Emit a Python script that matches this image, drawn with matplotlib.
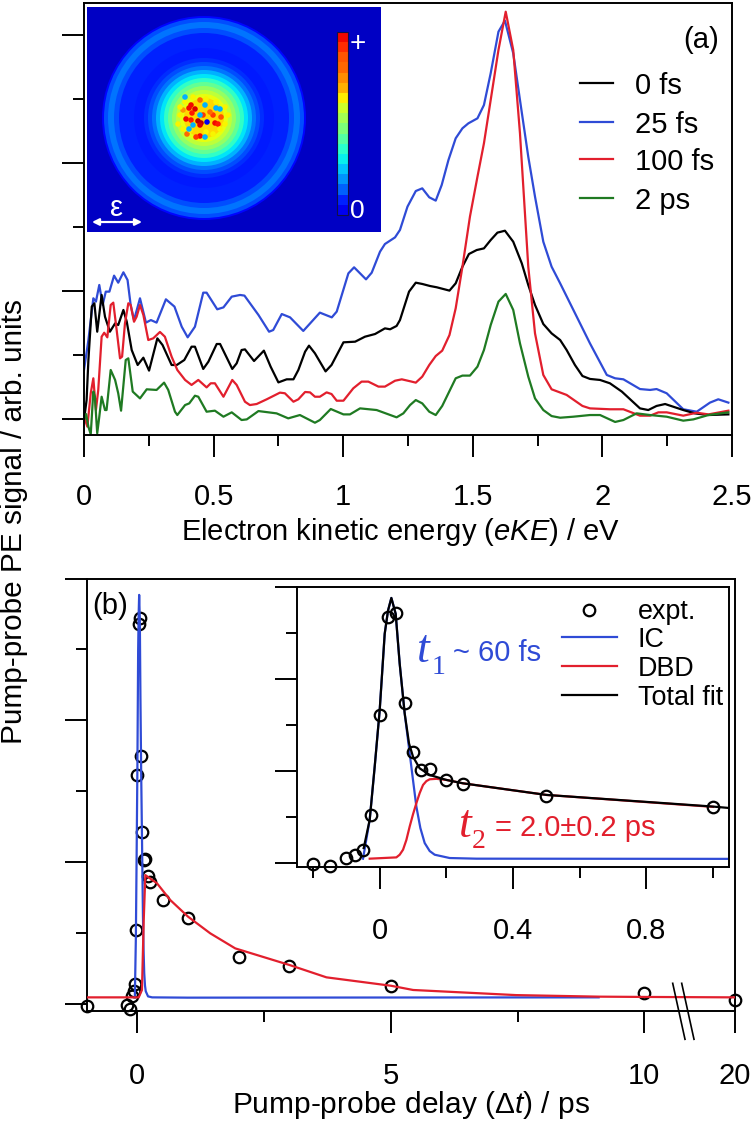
# -*- coding: utf-8 -*-
import numpy as np
import matplotlib
matplotlib.use("Agg")
import matplotlib.pyplot as plt
from matplotlib.lines import Line2D
from matplotlib.patches import Circle, Rectangle

plt.rcParams["font.family"] = ["Liberation Sans", "DejaVu Sans"]
plt.rcParams["mathtext.fontset"] = "custom"
plt.rcParams["mathtext.rm"] = "Liberation Sans"
plt.rcParams["mathtext.it"] = "Liberation Sans:italic"

# ---------------------------------------------------------------
# panel (a): photoelectron spectra
# ---------------------------------------------------------------
e_25fs = [0, .017, .036, .046, .059, .072, .084, .098, .116, .132, .152, .168, .180, .193, .216, .239, .258,
          .280, .316, .349, .377, .400, .428, .460, .473, .514, .538, .570, .602, .619, .673, .714, .730, .763,
          .795, .846, .910, .956, .975, 1.020, 1.042, 1.088, 1.110, 1.142, 1.161, 1.200, 1.219, 1.248, 1.280,
          1.305, 1.332, 1.357, 1.380, 1.406, 1.434, 1.460, 1.483, 1.518, 1.543, 1.569, 1.599, 1.624, 1.656,
          1.682, 1.714, 1.740, 1.772, 1.804, 1.837, 1.888, 1.952, 2.017, 2.049, 2.081, 2.145, 2.184, 2.209,
          2.248, 2.312, 2.364, 2.415, 2.447, 2.486]
s_25fs = [.383, .617, .943, .917, 1.047, .891, .995, .995, 1.120, 1.065, 1.146, 1.086, .891, .773, .943, .753,
          .773, .753, .935, .878, .721, .638, .721, .987, .987, .857, .872, .956, .969, .964, .813, .682, .695,
          .820, .794, .688, .831, .794, .839, 1.138, 1.185, 1.091, 1.143, 1.307, 1.367, 1.419, 1.477, 1.659,
          1.781, 1.802, 1.732, 1.706, 1.828, 2.023, 2.193, 2.271, 2.310, 2.349, 2.453, 2.701, 3.026, 3.112,
          2.857, 2.492, 2.049, 1.737, 1.385, 1.190, 1.060, .852, .591, .344, .318, .310, .234, .227, .234,
          .201, .076, .057, .128, .154, .128]

e_0fs = [0, .010, .017, .030, .040, .051, .068, .081, .100, .120, .132, .152, .165, .184, .207, .229, .251,
         .283, .303, .338, .358, .387, .415, .428, .460, .480, .512, .525, .572, .589, .608, .621, .656, .694,
         .720, .750, .782, .808, .827, .853, .868, .891, .932, .955, 1.001, 1.046, 1.084, 1.123, 1.161, 1.181,
         1.206, 1.219, 1.254, 1.280, 1.305, 1.335, 1.361, 1.410, 1.434, 1.460, 1.485, 1.515, 1.543, 1.569,
         1.595, 1.624, 1.656, 1.689, 1.714, 1.740, 1.772, 1.804, 1.837, 1.862, 1.894, 1.923, 1.952, 1.991,
         2.029, 2.075, 2.145, 2.177, 2.209, 2.242, 2.312, 2.357, 2.409, 2.486]
s_0fs = [-.008, .148, .461, .878, .904, .682, .969, .799, .682, .747, .734, .852, .760, .539, .422, .479, .378,
         .630, .578, .422, .422, .461, .565, .565, .391, .448, .586, .586, .391, .435, .539, .544, .453, .534,
         .409, .286, .310, .310, .383, .526, .573, .513, .372, .422, .599, .604, .643, .664, .708, .701, .727,
         .773, .995, 1.065, 1.055, 1.039, 1.029, 1.003, 1.060, 1.190, 1.289, 1.320, 1.333, 1.398, 1.456,
         1.471, 1.385, 1.216, 1.047, .891, .742, .669, .617, .539, .422, .336, .313, .305, .279, .214, .083,
         .070, .102, .117, .070, .044, .031, .036]

e_100fs = [0, .013, .026, .036, .046, .055, .068, .078, .090, .103, .113, .126, .139, .147, .158, .171, .180,
           .193, .203, .216, .229, .248, .267, .293, .312, .338, .360, .390, .415, .441, .473, .489, .505, .538,
           .572, .589, .621, .640, .666, .705, .756, .775, .808, .827, .853, .872, .891, .910, .936, .955, .975,
           1.001, 1.039, 1.071, 1.097, 1.136, 1.161, 1.200, 1.226, 1.258, 1.280, 1.305, 1.332, 1.357, 1.382,
           1.410, 1.434, 1.460, 1.489, 1.518, 1.543, 1.569, 1.599, 1.627, 1.656, 1.682, 1.714, 1.740, 1.772,
           1.804, 1.862, 1.923, 1.952, 2.029, 2.081, 2.145, 2.184, 2.216, 2.248, 2.312, 2.364, 2.409, 2.486]
s_100fs = [.018, -.060, .201, .318, .070, .227, .643, .674, .638, .891, .909, .695, .474, .487, .747, .904, .891,
           .760, .799, .891, .813, .617, .630, .680, .643, .487, .383, .305, .266, .305, .247, .279, .279, .174,
           .305, .266, .135, .109, .117, .154, .206, .201, .135, .154, .211, .208, .174, .174, .208, .195, .143,
           .143, .240, .292, .292, .253, .253, .299, .310, .295, .284, .331, .422, .492, .534, .656, .865, 1.190,
           1.581, 1.893, 2.154, 2.492, 2.883, 3.182, 2.883, 2.232, 1.190, .669, .344, .232, .188, .102, .083,
           .076, .076, .026, .026, .052, .052, .026, .049, .036, .065]

e_2ps = [0, .008, .017, .026, .036, .042, .051, .059, .068, .081, .087, .103, .120, .132, .143, .161, .171,
         .188, .216, .242, .280, .309, .325, .351, .360, .390, .406, .428, .441, .473, .505, .538, .570, .608,
         .628, .673, .743, .788, .833, .891, .910, .952, 1.001, 1.026, 1.065, 1.129, 1.206, 1.232, 1.258, 1.280,
         1.305, 1.332, 1.357, 1.382, 1.434, 1.460, 1.489, 1.518, 1.543, 1.569, 1.599, 1.627, 1.656, 1.682,
         1.714, 1.740, 1.772, 1.804, 1.837, 1.888, 1.952, 1.991, 2.049, 2.081, 2.132, 2.184, 2.248, 2.312,
         2.351, 2.409, 2.486]
s_2ps = [-.008, .039, -.060, -.120, .214, .174, -.112, .018, .174, .070, .070, .383, .305, .201, .065, .461,
         .474, .214, .161, .232, .227, .284, .227, .057, .031, .109, .122, .182, .174, .057, .065, .018, .052,
         -.008, -.003, .062, .044, .005, .031, -.029, -.008, .078, .036, .036, .083, .070, .013, .044, .109,
         .148, .122, .057, .031, .102, .318, .339, .339, .409, .539, .734, .917, .977, .852, .591, .331, .161,
         .070, .023, .010, .018, .031, .031, -.023, -.008, .044, .031, .018, -.013, -.003, .031, .052]

legend_a = ["0 fs", "25 fs", "100 fs", "2 ps"]
ticks_e_major = [0, .5, 1, 1.5, 2, 2.5]
ticks_e_minor = [.25, .75, 1.25, 1.75, 2.25]
labels_e = ["0", "0.5", "1", "1.5", "2", "2.5"]

# photoelectron image: radial bands and the hot spots of the core
ring_r = [102, 100, 96, 90, 85, 70, 60, 56, 52, 48, 44, 40, 36, 32, 28, 24, 20]
ring_level = [.13, .20, .24, .20, .16, .15, .17, .20, .24, .30, .35, .41, .47, .53, .58, .63, .68]
hot_dx = [-16, -18, -12, -15, -21, -16, -9, -6, -7, 8, 11, 6, -7, -11, -20, 14, -4, 3, -7, -24,
          -27, -29, -24, -17, -1, 6, 13, 18, 21, 18, 9, -1, -14, -22, -27,
          -22, 9, -2, -18, -2, 13, -7, -14, 0]
hot_dy = [-17, -14, -13, -9, -3, -2, -1, 1, 3, 1, 2, -7, 14, 15, 12, -5, -7, -10, -22, -12,
          -7, 2, 7, 8, 10, 12, 7, 2, -7, -15, -20, -23, -25, -20, -15,
          -25, -14, -17, 7, 15, -13, -7, 3, 0]
hot_level = [.9, .9, .92, .88, .9, .88, .95, .95, .92, .9, .88, .85, .9, .85, .8, .82, .85, .8, .8, .75,
             .65, .65, .65, .65, .65, .65, .65, .65, .65, .65, .65, .65, .65, .65, .65,
             .3, .3, .3, .3, .3, .3, .3, .3, .1]
cbar_levels = [.90, .86, .82, .80, .76, .72, .66, .60, .55, .50, .45, .40, .36, .32, .27, .22, .16, .10]

# ---------------------------------------------------------------
# panel (b): pump-probe transient
# ---------------------------------------------------------------
delay = np.array([-1, -.2, -.15, -.1, -.075, -.05, -.025, 0, .025, .05, .075, .1, .125, .15, .2, .25, .5, 1, 2, 3, 5, 10, 20])
signal = np.array([-.012, -.007, -.036, .054, .090, .144, .523, 1.614, 2.679, 2.715, 1.744, 1.209, 1.011, 1.018,
                   .903, .859, .733, .606, .331, .268, .127, .080, .028])

t_ic = [-.05, -.03, -.015, 0, .015, .025, .035, .048, .06, .075, .09, .10, .11, .122, .135, .15, .165, .21, .29, .998, 9.1]
y_ic = [.047, .469, 1.047, 1.661, 2.491, 2.744, 2.881, 2.708, 2.166, 1.625, 1.191, .90, .614, .38, .217, .13, .090, .054, .047, .045, .047]

# red curve as drawn in the inset and in the main axes (they are not the same trace)
t_dbd_in = [-.03, .05, .06, .07, .08, .09, .10, .11, .12, .13, .14, .15, .17, .2, .25, .5, 1]
y_dbd_in = [.047, .061, .09, .144, .25, .397, .53, .650, .76, .848, .89, .910, .915, .903, .866, .740, .61]
t_dbd = [-.99, .026, .09, .125, .157, .387, .65, 1, 1.437, 1.93, 3, 3.73, 5, 5.44, 7.47, 9.11, 10, 20]
y_dbd = [.047, .047, .099, .592, .908, .85, .732, .615, .498, .392, .275, .188, .129, .099, .063, .052, .05, .047]

t_total = [-.048, -.03, -.015, 0, .015, .025, .035, .048, .06, .075, .088, .1, .12, .15, .2, .25, .5, .998, 1.045]
y_total = [.162, .469, 1.047, 1.661, 2.491, 2.744, 2.881, 2.708, 2.166, 1.625, 1.30, 1.155, 1.029, .957, .903, .866, .740, .614, .599]

legend_b = ["expt.", "IC", "DBD", "Total fit"]

BLUE = "#2f4bd6"
RED = "#e21f2d"
GREEN = "#1f7a22"
W, H = 755, 1125
LW = 1.6
FS = 21


def fx(x):
    return x / W


def fy(y):
    return 1 - y / H


def make_axes(fig, left, top, right, bottom):
    return fig.add_axes([fx(left), fy(bottom), (right - left) / W, (bottom - top) / H])


def style_axes(ax):
    for s in ax.spines.values():
        s.set_linewidth(1.4)
    ax.tick_params(which="major", length=15.8, width=1.4)
    ax.tick_params(which="minor", length=7.9, width=1.4)


# x axis is broken after 10 ps: 10-20 ps is squeezed
BREAK_RATIO = 0.179


def forward(x):
    x = np.asarray(x, dtype=float)
    return np.where(x <= 10, x, 10 + (x - 10) * BREAK_RATIO)


def inverse(x):
    x = np.asarray(x, dtype=float)
    return np.where(x <= 10, x, 10 + (x - 10) / BREAK_RATIO)


fig = plt.figure(figsize=(W / 100, H / 100), dpi=100)

# ---- (a) ----
ax_a = make_axes(fig, 84, 3, 732, 435)
style_axes(ax_a)
ax_a.plot(e_25fs, s_25fs, color=BLUE, lw=LW)
ax_a.plot(e_0fs, s_0fs, color="black", lw=LW)
ax_a.plot(e_100fs, s_100fs, color=RED, lw=LW)
ax_a.plot(e_2ps, s_2ps, color=GREEN, lw=LW)
ax_a.set_xlim(0, 2.5)
ax_a.set_ylim(-.125, 3.25)
ax_a.set_xticks(ticks_e_major)
ax_a.set_xticklabels(labels_e, fontsize=FS)
ax_a.set_xticks(ticks_e_minor, minor=True)
ax_a.set_yticks([0, 1, 2, 3])
ax_a.set_yticks([.5, 1.5, 2.5], minor=True)
ax_a.set_yticklabels([])
ax_a.tick_params(axis="x", which="major", pad=19)

for name, col, y in zip(legend_a, ["black", BLUE, RED, GREEN], [83, 122, 159, 198]):
    fig.add_artist(Line2D([fx(580), fx(613)], [fy(y), fy(y)], color=col, lw=LW))
    fig.text(fx(635), fy(y), name, fontsize=FS, va="center_baseline")
fig.text(fx(683), fy(37), "(a)", fontsize=FS, va="center_baseline")
fig.text(fx(400), fy(540), r"Electron kinetic energy ($\mathit{eKE}$) / eV", fontsize=FS, ha="center", va="baseline")
fig.text(fx(14), fy(522), "Pump-probe PE signal / arb. units", fontsize=21.4, rotation=90, ha="center", va="center")

# image inset, axis units are picture pixels
ax_img = make_axes(fig, 87, 7, 381, 232)
cmap = plt.get_cmap("jet")
ax_img.set_facecolor(cmap(.06))
for s in ax_img.spines.values():
    s.set_visible(False)
ax_img.set_xticks([])
ax_img.set_yticks([])
for r, lev in zip(ring_r, ring_level):
    ax_img.add_patch(Circle((204, 118), r, fc=cmap(lev), ec="none"))
ax_img.scatter(207 + np.array(hot_dx), 122 + np.array(hot_dy), c=hot_level, cmap=cmap, vmin=0, vmax=1,
               s=16, marker="o", linewidths=0)
ax_img.imshow(np.array(cbar_levels)[:, None], extent=(337, 348, 215, 32), cmap=cmap, vmin=0, vmax=1, aspect="auto")
ax_img.add_patch(Rectangle((337, 32), 11, 183, fc="none", ec="#10104a", lw=.8))
ax_img.set_xlim(87, 381)
ax_img.set_ylim(232, 7)
ax_img.text(358, 44, "+", color="white", fontsize=20, ha="center", va="center")
ax_img.text(357, 211, "0", color="white", fontsize=19, ha="center", va="center")
ax_img.text(117, 208, "ε", color="white", fontsize=21, ha="center", va="center")
ax_img.annotate("", xy=(142, 222), xytext=(92, 222),
                arrowprops=dict(arrowstyle="<|-|>", color="white", lw=1.6, shrinkA=0, shrinkB=0))

# ---- (b) ----
ax_b = make_axes(fig, 86.7, 579, 735, 1011)
style_axes(ax_b)
ax_b.set_xscale("function", functions=(forward, inverse))
ax_b.plot(delay, signal, ls="none", marker="o", ms=8.3, mfc="none", mec="black", mew=1.6, clip_on=False, zorder=2)
ax_b.plot(t_ic, y_ic, color=BLUE, lw=LW, zorder=3)
ax_b.plot(t_dbd, y_dbd, color=RED, lw=LW, zorder=4)
ax_b.set_xlim(-1, 20)
ax_b.set_ylim(-.049, 2.993)
ax_b.set_xticks([0, 5, 10, 20])
ax_b.set_xticklabels(["0", "5", "10", "20"], fontsize=FS)
ax_b.set_xticks([2.5, 7.5], minor=True)
ax_b.set_yticks([0, 1, 2, 2.99])
ax_b.set_yticks([.5, 1.5, 2.5], minor=True)
ax_b.set_yticklabels([])
ax_b.tick_params(axis="x", which="major", pad=21)
fig.text(fx(92), fy(603), "(b)", fontsize=FS, va="center_baseline")
fig.text(fx(411), fy(1113), "Pump-probe delay (Δ$\\mathit{t}$) / ps", fontsize=21.5, ha="center", va="baseline")

# axis break marks
for x0 in [672.7, 681.7]:
    fig.add_artist(Line2D([fx(x0), fx(x0 + 12.3)], [fy(983.3), fy(1039.3)], color="black", lw=1.2))

# inset
ax_in = make_axes(fig, 296.7, 587, 729, 867)
style_axes(ax_in)
keep = (delay >= -.2) & (delay <= 1)
ax_in.plot(t_ic, y_ic, color=BLUE, lw=LW, zorder=2)
ax_in.plot(t_dbd_in, y_dbd_in, color=RED, lw=LW, zorder=3)
ax_in.plot(t_total, y_total, color="black", lw=LW, zorder=4)
ax_in.plot(delay[keep], signal[keep], ls="none", marker="o", ms=8.3, mfc="none", mec="black", mew=1.6, clip_on=False, zorder=5)
ax_in.set_xlim(-.249, 1.048)
ax_in.set_ylim(-.0435, 3)
ax_in.set_xticks([0, .4, .8])
ax_in.set_xticklabels(["0", "0.4", "0.8"], fontsize=FS)
ax_in.set_xticks([-.2, .2, .6, 1], minor=True)
ax_in.set_yticks([0, 1, 2, 3])
ax_in.set_yticks([.5, 1.5, 2.5], minor=True)
ax_in.set_yticklabels([])
ax_in.tick_params(axis="x", which="major", pad=20)

fig.add_artist(Line2D([fx(589)], [fy(610)], ls="none", marker="o", ms=8.3, mfc="none", mec="black", mew=1.6))
for name, col, y in zip(legend_b[1:], [BLUE, RED, "black"], [637, 666, 695]):
    fig.add_artist(Line2D([fx(562), fx(617)], [fy(y), fy(y)], color=col, lw=LW))
for name, y in zip(legend_b, [609, 637, 666, 695]):
    fig.text(fx(638), fy(y), name, fontsize=19.4, va="center_baseline")

serif = "Liberation Serif"
fig.text(fx(417), fy(662), "t", color=BLUE, fontsize=33, family=serif, style="italic")
fig.text(fx(432), fy(674), "1", color=BLUE, fontsize=20, family=serif)
fig.text(fx(453), fy(661), "~ 60 fs", color=BLUE, fontsize=FS)
fig.text(fx(459), fy(837), "t", color=RED, fontsize=33, family=serif, style="italic")
fig.text(fx(472), fy(848), "2", color=RED, fontsize=20, family=serif)
fig.text(fx(495), fy(836), "= 2.0±0.2 ps", color=RED, fontsize=21)

fig.savefig("out.png", dpi=100)
